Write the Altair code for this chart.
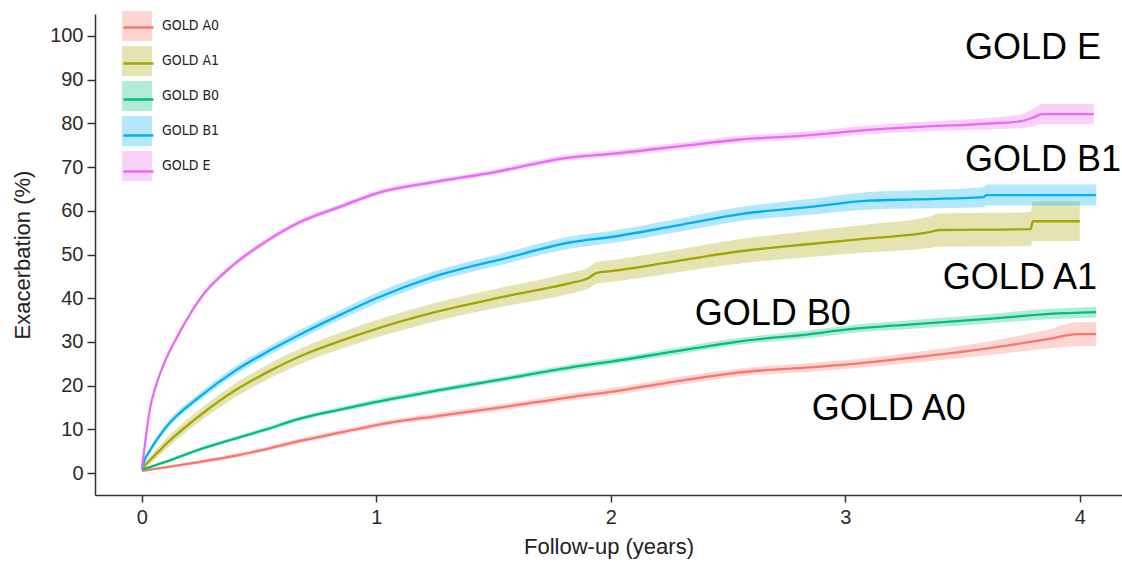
import altair as alt
import pandas as pd

groups = ["GOLD A0", "GOLD A1", "GOLD B0", "GOLD B1", "GOLD E"]
colors = ["#F8766D", "#A3A500", "#00BF7D", "#00B0F6", "#E76BF3"]

# GOLD A0
a0_t = [0, 0.107, 0.25, 0.39, 0.53, 0.67, 0.85, 1.0, 1.25, 1.54, 1.83, 2.0, 2.28, 2.56, 2.85, 3.0, 3.3, 3.52, 3.73, 3.87, 3.99, 4.07]
a0_v = [0.5, 1.4, 2.6, 3.9, 5.5, 7.3, 9.3, 11.0, 13.0, 15.1, 17.4, 18.6, 21.0, 23.1, 24.2, 24.8, 26.5, 27.9, 29.5, 30.7, 31.8, 31.8]
a0_ci = [0.2, 0.3, 0.4, 0.5, 0.5, 0.6, 0.6, 0.6, 0.7, 0.7, 0.8, 0.8, 0.9, 0.9, 1.0, 1.0, 1.2, 1.4, 1.8, 2.2, 2.7, 2.7]

# GOLD A1
a1_t = [0, 0.02, 0.05, 0.1, 0.25, 0.4, 0.55, 0.7, 0.85, 1.0, 1.25, 1.54, 1.83, 1.9, 1.94, 2.0, 2.28, 2.56, 2.85, 3.1, 3.36, 3.4, 3.79, 3.8, 4.0]
a1_v = [1.0, 2.2, 3.8, 6.5, 13.3, 19.0, 23.5, 27.3, 30.3, 33.0, 36.8, 40.3, 43.5, 44.5, 45.8, 46.2, 48.5, 50.8, 52.4, 53.7, 55.1, 55.6, 55.8, 57.6, 57.6]
a1_ci = [0.5, 0.8, 1.0, 1.2, 1.4, 1.6, 1.7, 1.8, 1.9, 2.0, 2.1, 2.2, 2.4, 2.4, 2.5, 2.5, 2.6, 2.8, 3.0, 3.2, 3.6, 3.8, 3.9, 4.5, 4.5]

# GOLD B0
b0_t = [0, 0.107, 0.25, 0.39, 0.53, 0.67, 0.85, 1.0, 1.25, 1.54, 1.83, 2.0, 2.28, 2.56, 2.85, 3.0, 3.3, 3.59, 3.87, 4.07]
b0_v = [0.8, 2.7, 5.5, 7.8, 10.0, 12.4, 14.6, 16.3, 18.8, 21.5, 24.2, 25.5, 27.9, 30.2, 31.8, 32.8, 34.1, 35.2, 36.4, 36.8]
b0_ci = [0.2, 0.3, 0.4, 0.4, 0.5, 0.5, 0.5, 0.6, 0.6, 0.6, 0.7, 0.7, 0.8, 0.8, 0.9, 0.9, 1.0, 1.1, 1.2, 1.2]

# GOLD B1
b1_t = [0, 0.01, 0.03, 0.1, 0.25, 0.4, 0.55, 0.7, 0.85, 1.0, 1.25, 1.54, 1.83, 2.0, 2.28, 2.56, 2.85, 3.1, 3.3, 3.59, 3.6, 4.07]
b1_v = [1.0, 2.8, 4.8, 10.3, 17.6, 23.5, 28.2, 32.4, 36.3, 40.0, 45.0, 49.0, 52.8, 54.0, 56.6, 59.3, 60.9, 62.3, 62.6, 63.1, 63.6, 63.6]
b1_ci = [0.4, 0.6, 0.7, 0.8, 0.9, 1.0, 1.0, 1.1, 1.1, 1.2, 1.2, 1.3, 1.4, 1.4, 1.5, 1.6, 1.8, 2.0, 2.1, 2.3, 2.4, 2.4]

# GOLD E
e_t = [0, 0.005, 0.02, 0.034, 0.06, 0.09, 0.162, 0.247, 0.39, 0.53, 0.67, 0.85, 1.0, 1.25, 1.5, 1.8, 2.0, 2.3, 2.55, 2.85, 3.1, 3.35, 3.6, 3.75, 3.8, 3.84, 4.06]
e_v = [1.0, 3.2, 9.5, 14.6, 20.0, 24.5, 32.3, 39.8, 47.6, 53.0, 57.3, 61.0, 64.0, 66.6, 68.8, 72.0, 73.0, 74.8, 76.3, 77.3, 78.5, 79.3, 79.9, 80.5, 81.3, 82.1, 82.1]
e_ci = [0.3, 0.4, 0.5, 0.6, 0.6, 0.6, 0.6, 0.6, 0.6, 0.6, 0.6, 0.6, 0.6, 0.6, 0.6, 0.7, 0.7, 0.8, 0.8, 0.9, 1.0, 1.1, 1.3, 1.6, 2.0, 2.3, 2.3]

series = {
    "GOLD A0": (a0_t, a0_v, a0_ci),
    "GOLD A1": (a1_t, a1_v, a1_ci),
    "GOLD B0": (b0_t, b0_v, b0_ci),
    "GOLD B1": (b1_t, b1_v, b1_ci),
    "GOLD E": (e_t, e_v, e_ci),
}

rows = []
for g, (ts, vs, cis) in series.items():
    for i, (t, v, c) in enumerate(zip(ts, vs, cis)):
        rows.append({"group": g, "group_line": g, "t": t, "v": v,
                     "lo": v - c, "hi": v + c, "idx": i})
df = pd.DataFrame(rows)

ann_text = ["GOLD E", "GOLD B1", "GOLD A1", "GOLD B0", "GOLD A0"]
ann_t = [3.51, 3.51, 3.416, 2.358, 2.857]
ann_v = [97.3, 71.5, 44.7, 36.4, 14.7]
ann = pd.DataFrame({"label": ann_text, "t": ann_t, "v": ann_v})

legend_font = "Liberation Sans Narrow, DejaVu Sans Condensed, Liberation Sans, Arial, sans-serif"
main_font = "Liberation Sans, Arial, Helvetica, sans-serif"

xscale = alt.Scale(domain=[-0.2, 4.18], nice=False, zero=False)
yscale = alt.Scale(domain=[-5, 105], nice=False, zero=False)

xaxis = alt.Axis(values=[0, 1, 2, 3, 4], title="Follow-up (years)", grid=False,
                 domainColor="#333333", domainWidth=1.5, tickColor="#333333",
                 tickWidth=1.5, tickSize=7, labelPadding=5, labelFontSize=20,
                 labelColor="#2a2a2a", labelFont=main_font, titleFont=main_font,
                 titleFontSize=22, titleFontWeight="normal", titleColor="#222222",
                 titleX=513.5, titleY=51, titleBaseline="middle", titleAlign="center")
yaxis = alt.Axis(values=list(range(0, 101, 10)), title="Exacerbation (%)", grid=False,
                 domainColor="#333333", domainWidth=1.5, tickColor="#333333",
                 tickWidth=1.5, tickSize=8, labelPadding=4, labelFontSize=20,
                 labelColor="#2a2a2a", labelFont=main_font, titleFont=main_font,
                 titleFontSize=22, titleFontWeight="normal", titleColor="#222222",
                 titleX=-73, titleY=240.5, titleBaseline="middle", titleAlign="center",
                 titleAngle=270)

base = alt.Chart(df)

bands = base.mark_area(fillOpacity=0.3, interpolate="monotone").encode(
    x=alt.X("t:Q", scale=xscale, axis=xaxis),
    y=alt.Y("lo:Q", scale=yscale, axis=yaxis, stack=None),
    y2="hi:Q",
    fill=alt.Fill("group:N", scale=alt.Scale(domain=groups, range=colors),
                  legend=alt.Legend(orient="none", legendX=27, legendY=-3, title=None,
                                    symbolType="square", symbolSize=900,
                                    symbolOpacity=0.3, symbolStrokeWidth=0,
                                    rowPadding=5, labelOffset=10, labelFontSize=14,
                                    labelFont=legend_font, labelColor="#222222",
                                    padding=0)),
)

lines = base.mark_line(strokeWidth=2.3, interpolate="monotone").encode(
    x=alt.X("t:Q", scale=xscale, axis=xaxis),
    y=alt.Y("v:Q", scale=yscale, axis=yaxis),
    stroke=alt.Stroke("group_line:N", scale=alt.Scale(domain=groups, range=colors),
                      legend=alt.Legend(orient="none", legendX=27, legendY=-3, title=None,
                                        symbolType="stroke", symbolSize=900,
                                        symbolStrokeWidth=2.5, rowPadding=12,
                                        labelOffset=10, labelFontSize=14,
                                        labelFont=legend_font, labelColor="#222222",
                                        labelExpr="''", padding=0)),
    order=alt.Order("idx:Q"),
)

texts = alt.Chart(ann).mark_text(align="left", baseline="middle", fontSize=36,
                                 font=main_font, color="black").encode(
    x=alt.X("t:Q", scale=xscale, axis=xaxis),
    y=alt.Y("v:Q", scale=yscale, axis=yaxis),
    text="label:N",
)

chart = alt.layer(bands, lines, texts).resolve_scale(fill="independent", stroke="independent").properties(
    width=1027, height=481,
    autosize=alt.AutoSizeParams(type="none"),
    padding={"left": 95, "top": 14, "right": 0, "bottom": 68},
    background="white",
).configure_view(stroke=None)

chart.save("out.html", embed_options={"renderer": "svg", "actions": False})
